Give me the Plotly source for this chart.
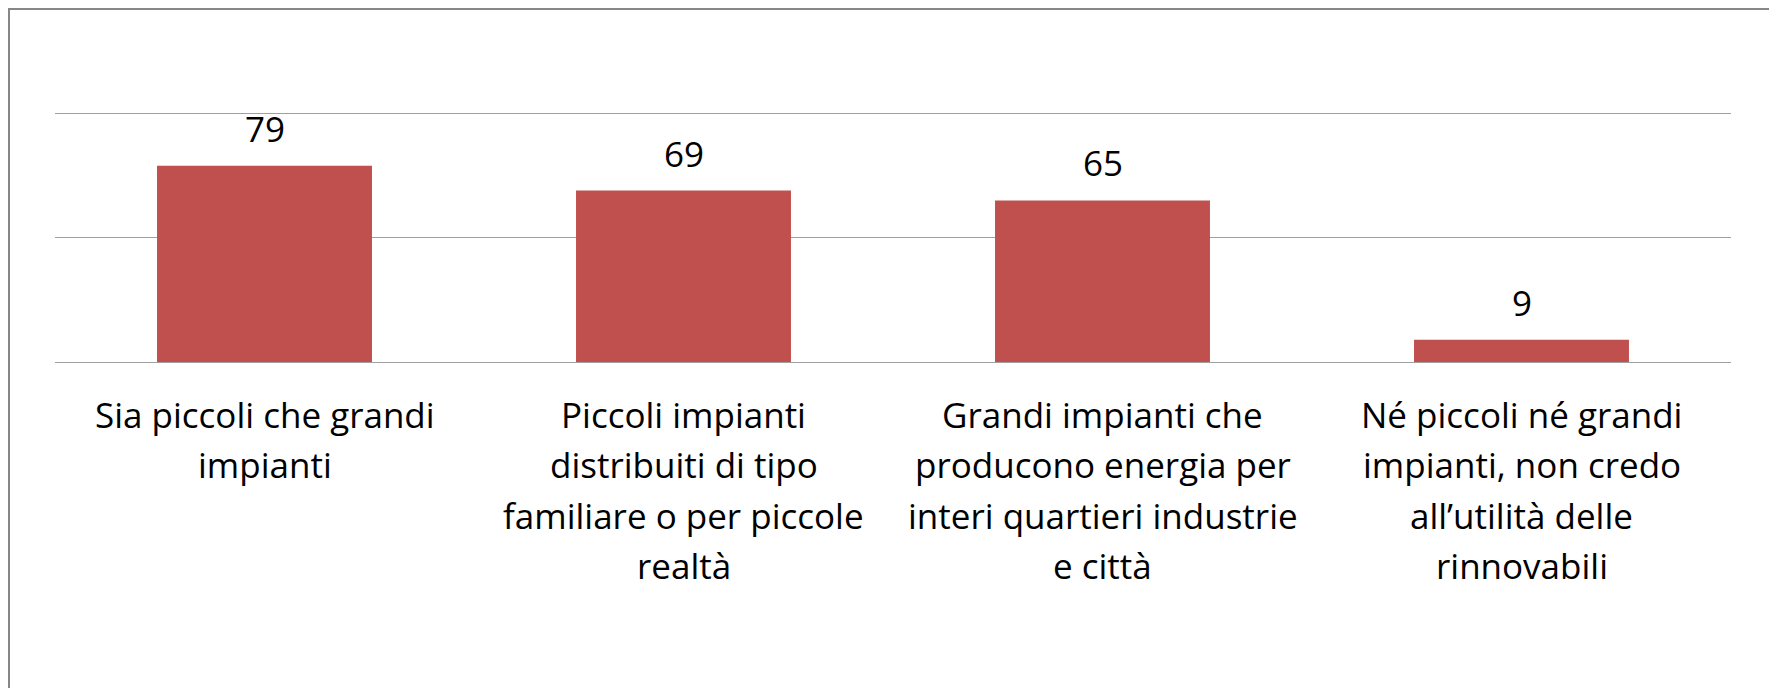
import plotly.graph_objects as go

# survey answers and percentages
categories = [
    "Sia piccoli che grandi<br>impianti",
    "Piccoli impianti<br>distribuiti di tipo<br>familiare o per piccole<br>realtà",
    "Grandi impianti che<br>producono energia per<br>interi quartieri industrie<br>e città",
    "Né piccoli né grandi<br>impianti, non credo<br>all’utilità delle<br>rinnovabili",
]
values = [79, 69, 65, 9]

# the page body adds an 8px margin, so the figure is a bit smaller
W, H = 1769, 680
LEFT, RIGHT, BOTTOM = 47, 1723, 354  # plot area in pixels
Y_MAX = 101
TOP = BOTTOM - round(249 * Y_MAX / 100)
FONT = "Open Sans"
SIZE = 35
LINE_GAP = 50.3  # pixels between label baselines

fig = go.Figure(go.Bar(x=list(range(len(categories))), y=values,
                       marker=dict(color="#C0504D", line=dict(width=0)),
                       width=0.513, hoverinfo="skip"))

annotations = []
# value labels above bars
for i, v in enumerate(values):
    annotations.append(dict(x=i, y=v, xref="x", yref="y", text=str(v),
                            showarrow=False, yanchor="bottom", yshift=12,
                            font=dict(family=FONT, size=SIZE, color="black")))
# category labels, one annotation per line to keep Excel-like line spacing
for i, label in enumerate(categories):
    for k, line in enumerate(label.split("<br>")):
        annotations.append(dict(x=i, y=0, xref="x", yref="y", text=line,
                                showarrow=False, yanchor="top",
                                yshift=-(27 + k * LINE_GAP),
                                font=dict(family=FONT, size=SIZE, color="black")))

pw, ph = RIGHT - LEFT, BOTTOM - TOP
fig.add_shape(type="rect", xref="paper", yref="paper",
              x0=(1 - LEFT) / pw, x1=(1765 - LEFT) / pw,
              y0=(BOTTOM - 700) / ph, y1=(BOTTOM - 1) / ph,
              line=dict(color="#878787", width=2), fillcolor="rgba(0,0,0,0)")

fig.update_layout(
    width=W, height=H,
    margin=dict(l=LEFT, r=W - RIGHT, t=TOP, b=H - BOTTOM, pad=0),
    paper_bgcolor="white", plot_bgcolor="white",
    showlegend=False,
    annotations=annotations,
    xaxis=dict(range=[-0.5, len(categories) - 0.5], showticklabels=False,
               showgrid=False, zeroline=False, showline=False, fixedrange=True),
    yaxis=dict(range=[0, Y_MAX], tickvals=[0, 50, 100], showticklabels=False,
               showgrid=True, gridcolor="#A0A0A0", gridwidth=1,
               zeroline=True, zerolinecolor="#A0A0A0", zerolinewidth=1,
               showline=False, fixedrange=True),
)

fig.write_html("out.html")
